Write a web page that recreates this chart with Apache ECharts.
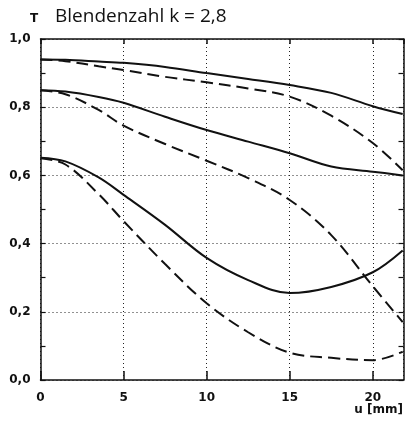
<!DOCTYPE html>
<html>
<head>
<meta charset="utf-8">
<script src="https://cdn.jsdelivr.net/npm/echarts@6/dist/echarts.min.js"></script>
<style>
  html, body { margin: 0; padding: 0; background: #fff; }
  #chart { width: 405px; height: 421px; }
</style>
</head>
<body>
<div id="chart"></div>
<script>
// u in mm, shared by all curves
const uSteps = [0, 1.5, 3.5, 5, 7.5, 10, 12.5, 15, 17.5, 20, 21.8];
// transmission T, solid = upper, dashed = lower of each pair
const solidTop = [0.94, 0.939, 0.934, 0.93, 0.918, 0.90, 0.883, 0.865, 0.842, 0.803, 0.78];
const dashedTop = [0.94, 0.935, 0.92, 0.909, 0.889, 0.873, 0.855, 0.831, 0.775, 0.695, 0.615];
const solidMid = [0.85, 0.846, 0.83, 0.813, 0.772, 0.733, 0.699, 0.665, 0.626, 0.611, 0.60];
const dashedMid = [0.85, 0.838, 0.792, 0.746, 0.692, 0.643, 0.592, 0.528, 0.425, 0.275, 0.17];
const solidLow = [0.652, 0.641, 0.594, 0.543, 0.455, 0.358, 0.293, 0.255, 0.273, 0.316, 0.38];
const dashedLow = [0.65, 0.632, 0.545, 0.466, 0.34, 0.225, 0.14, 0.08, 0.065, 0.058, 0.083];
const uTicks = [0, 5, 10, 15, 20];

const chart = echarts.init(document.getElementById('chart'));

function pairs(ys) {
  return uSteps.map((u, i) => [u, ys[i]]);
}

function curve(ys, dashed) {
  return {
    type: 'line',
    data: pairs(ys),
    smooth: 0.35,
    symbol: 'none',
    xAxisIndex: 0,
    yAxisIndex: 0,
    lineStyle: {
      color: '#111',
      width: 2,
      type: dashed ? [12, 6] : 'solid'
    },
    z: 5
  };
}

const labelFont = {
  fontFamily: 'DejaVu Sans',
  fontWeight: 'bold',
  fontSize: 12,
  color: '#111'
};
const black = { color: '#111', width: 1.5 };
const thin = { color: '#111', width: 1.2 };
const dotted = { color: '#222', width: 1, type: [1, 3] };

chart.setOption({
  animation: false,
  grid: { left: 40.5, right: 1.5, top: 39, bottom: 41 },
  graphic: [
    { type: 'text', left: 30, top: 13, style: { text: 'T', font: 'bold 12px DejaVu Sans', fill: '#111' } },
    { type: 'text', left: 55, top: 7, style: { text: 'Blendenzahl k = 2,8', font: '19px "Open Sans"', fill: '#111' } },
    { type: 'text', right: 2, top: 404, style: { text: 'u [mm]', font: 'bold 12px DejaVu Sans', fill: '#111' } }
  ],
  xAxis: [
    {
      type: 'value', position: 'bottom', min: 0, max: 21.85, interval: 5,
      axisLine: { onZero: false, lineStyle: black },
      axisTick: { inside: true, length: 9, lineStyle: black },
      axisLabel: Object.assign({
        margin: 12,
        showMaxLabel: false,
        formatter: v => uTicks.includes(v) ? String(v) : ''
      }, labelFont),
      splitLine: { show: true, lineStyle: dotted }
    },
    {
      type: 'value', position: 'top', min: 0, max: 21.85, interval: 5,
      axisLine: { onZero: false, lineStyle: black },
      axisTick: { inside: true, length: 5, lineStyle: black },
      axisLabel: { show: false },
      splitLine: { show: false }
    }
  ],
  yAxis: [
    {
      // labels, frame and dotted grid
      type: 'value', position: 'left', min: 0, max: 1, interval: 0.2,
      axisLine: { show: true, onZero: false, lineStyle: black },
      axisTick: { show: false },
      axisLabel: Object.assign({
        margin: 10,
        formatter: v => v.toFixed(1).replace('.', ',')
      }, labelFont),
      splitLine: { show: true, lineStyle: dotted }
    },
    {
      // small inward ticks every 0.1 on the left
      type: 'value', position: 'left', offset: 0, min: 0, max: 1, interval: 0.1,
      axisLine: { show: false, onZero: false },
      axisTick: { show: true, inside: true, length: 5, lineStyle: thin },
      axisLabel: { show: false },
      splitLine: { show: false }
    },
    {
      type: 'value', position: 'right', offset: 0, min: 0, max: 1, interval: 0.1,
      axisLine: { show: true, onZero: false, lineStyle: black },
      axisTick: { show: true, inside: true, length: 5, lineStyle: thin },
      axisLabel: { show: false },
      splitLine: { show: false }
    }
  ],
  series: [
    curve(solidTop, false),
    curve(dashedTop, true),
    curve(solidMid, false),
    curve(dashedMid, true),
    curve(solidLow, false),
    curve(dashedLow, true)
  ]
});
</script>
</body>
</html>
